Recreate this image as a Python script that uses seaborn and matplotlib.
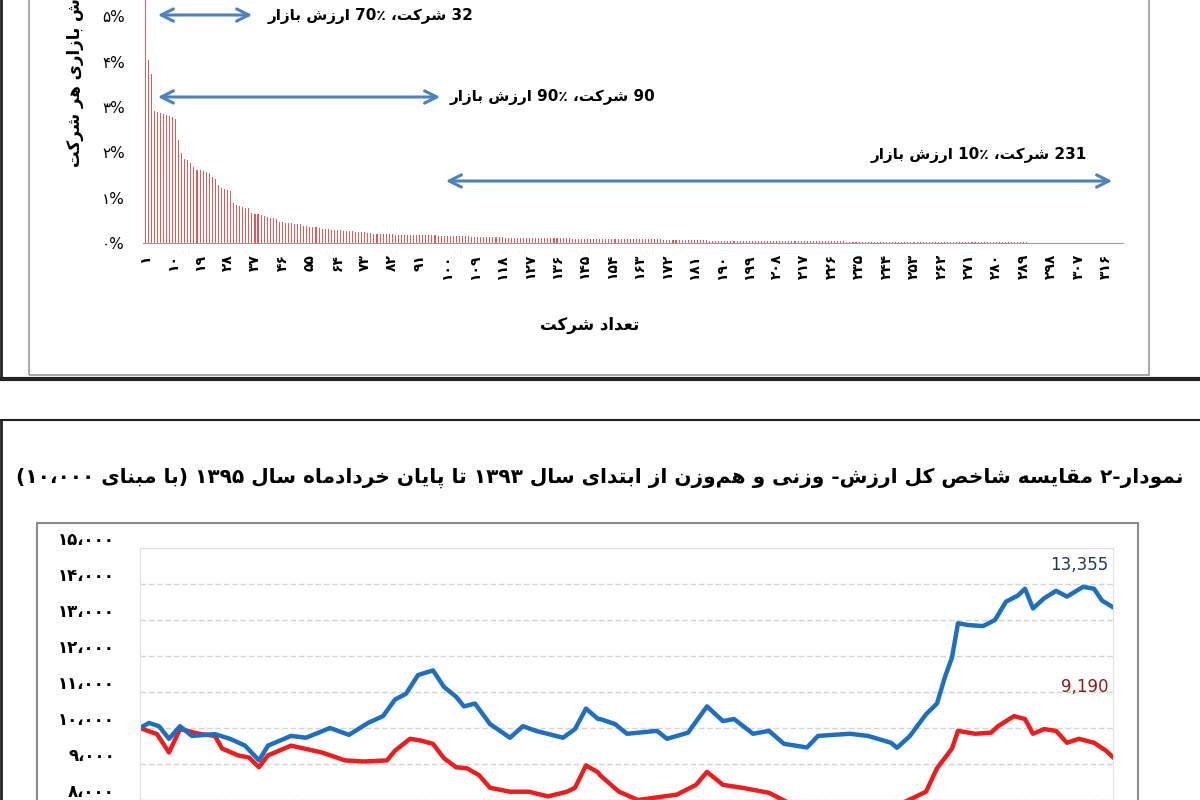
import re
import numpy as np
import pandas as pd
import matplotlib
matplotlib.use("Agg")
import matplotlib.pyplot as plt
import matplotlib.transforms as mtrans
from matplotlib.patches import Rectangle
from matplotlib.lines import Line2D
import seaborn as sns

# ---------------- data ----------------
share_pct = ([6.2, 4.03, 3.73, 2.91, 2.90, 2.87, 2.85, 2.83, 2.80, 2.78, 2.74, 2.28, 1.98,
              1.86, 1.83, 1.76, 1.68, 1.61, 1.60, 1.59, 1.57, 1.55,
              1.45, 1.42, 1.28, 1.22, 1.20, 1.17, 1.15,
              0.88, 0.84, 0.81, 0.79, 0.78, 0.77,
              0.66, 0.64, 0.63, 0.62, 0.60, 0.57, 0.56, 0.55, 0.54,
              0.47, 0.46, 0.45, 0.45, 0.44, 0.43, 0.42, 0.41,
              0.38, 0.37, 0.36, 0.36, 0.35, 0.34,
              0.31, 0.30, 0.30, 0.29, 0.29, 0.28, 0.28, 0.27, 0.27, 0.26, 0.26, 0.25, 0.25, 0.24, 0.24, 0.23, 0.22]
             + [0.19] * 7 + [0.18] * 7 + [0.17] * 7
             + [0.15] * 11 + [0.13] * 11 + [0.12] * 11 + [0.10] * 11
             + [0.09] * 15 + [0.08] * 15 + [0.06] * 15 + [0.05] * 15
             + [0.04] * 30 + [0.03] * 30 + [0.02] * 30 + [0.01] * 31)
company_no = list(range(1, len(share_pct) + 1))
company_ticks = list(range(1, 321, 9))

blue_day = [0, 9, 19, 29, 40, 52, 75, 90, 105, 119, 128, 151, 166, 190, 209, 228, 243, 255, 266, 278,
            293, 304, 316, 324, 335, 350, 370, 383, 396, 423, 435, 446, 458,
            460, 475, 487, 517, 527, 548, 567, 583, 594, 613, 629, 644, 667, 678, 710, 728, 751, 757,
            770, 786, 797, 805, 812, 818, 828, 843, 855, 866, 878, 885, 893, 904, 916, 927, 943, 954, 962, 973]
blue_val = [10000, 10140, 10050, 9700, 10050, 9780, 9830, 9700, 9510, 9100, 9510, 9780, 9730, 10000, 9810,
            10140, 10330, 10790, 10950, 11470, 11600, 11140, 10870, 10600, 10680, 10110, 9730, 10050, 9920,
            9730, 9970, 10540, 10250,
            10250, 10110, 9840, 9920, 9700, 9870, 10600, 10190, 10250, 9840, 9920, 9560, 9460, 9780, 9840,
            9780, 9590, 9450, 9780, 10380, 10680, 11420, 11960, 12910, 12860, 12830, 13000, 13510, 13680,
            13870, 13320, 13600, 13810, 13650, 13920, 13870, 13540, 13355]

red_day = [0, 17, 29, 40, 59, 75, 82, 98, 109, 119, 128, 151, 182, 205, 224, 247, 255, 270, 281, 293,
           304, 316, 327, 339, 350, 370, 389, 408, 427, 435, 446, 458,
           460, 479, 498, 537, 556, 567, 583, 602, 629, 650, 690, 730, 765,
           786, 797, 812, 818, 835, 851, 858, 874, 885, 893, 904, 916, 927, 939, 954, 966, 973]
red_val = [10000, 9830, 9320, 9970, 9840, 9780, 9430, 9240, 9180, 8910, 9240, 9510, 9320, 9100, 9070,
           9100, 9370, 9700, 9650, 9560, 9160, 8910, 8880, 8690, 8340, 8230, 8230, 8100, 8230, 8340,
           8960, 8770,
           8690, 8230, 8000, 8150, 8420, 8780, 8420, 8340, 8200, 7900, 7800, 7800, 7950,
           8230, 8880, 9430, 9920, 9840, 9870, 10050, 10330, 10250, 9840, 9970, 9920, 9590, 9700,
           9590, 9370, 9190]

y_ticks_idx = [8000, 9000, 10000, 11000, 12000, 13000, 14000, 15000]
pct_ticks = [0, 1, 2, 3, 4, 5]

title_text = "نمودار-۲ مقایسه شاخص کل ارزش- وزنی و هم\u200cوزن از ابتدای سال ۱۳۹۳ تا پایان خردادماه سال ۱۳۹۵ (با مبنای ۱۰،۰۰۰)"
ylabel_text = "ارزش بازاری هر شرکت"
xlabel_text = "تعداد شرکت"
note1 = "32 شرکت، ٪70 ارزش بازار"
note2 = "90 شرکت، ٪90 ارزش بازار"
note3 = "231 شرکت، ٪10 ارزش بازار"

# ---------------- Arabic/Persian shaping ----------------
DUAL = {'ب': 0xFE8F, 'ت': 0xFE95, 'ث': 0xFE99, 'ج': 0xFE9D, 'ح': 0xFEA1, 'خ': 0xFEA5, 'س': 0xFEB1,
        'ش': 0xFEB5, 'ص': 0xFEB9, 'ض': 0xFEBD, 'ط': 0xFEC1, 'ظ': 0xFEC5, 'ع': 0xFEC9, 'غ': 0xFECD,
        'ف': 0xFED1, 'ق': 0xFED5, 'ك': 0xFED9, 'ل': 0xFEDD, 'م': 0xFEE1, 'ن': 0xFEE5, 'ه': 0xFEE9,
        'ي': 0xFEF1, 'ی': 0xFBFC, 'ک': 0xFB8E, 'پ': 0xFB56, 'گ': 0xFB92, 'چ': 0xFB7A}
RIGHT = {'ا': 0xFE8D, 'آ': 0xFE81, 'د': 0xFEA9, 'ذ': 0xFEAB, 'ر': 0xFEAD, 'ز': 0xFEAF, 'و': 0xFEED,
         'ژ': 0xFB8A}


def shape(s):
    out = []
    n = len(s)
    for i, c in enumerate(s):
        p = s[i - 1] if i > 0 else ''
        q = s[i + 1] if i + 1 < n else ''
        pj = p in DUAL
        nj = q in DUAL or q in RIGHT
        if c in DUAL:
            b = DUAL[c]
            if pj and nj:
                out.append(chr(b + 3))
            elif nj:
                out.append(chr(b + 2))
            elif pj:
                out.append(chr(b + 1))
            else:
                out.append(chr(b))
        elif c in RIGHT:
            out.append(chr(RIGHT[c] + 1) if pj else chr(RIGHT[c]))
        elif c == '\u200c':
            continue
        else:
            out.append(c)
    return ''.join(out)


MIRROR = {'(': ')', ')': '('}


def rtl(s):
    s = shape(s)
    parts = re.split(r'([0-9۰-۹]+(?:[,،٬.][0-9۰-۹]+)*)', s)
    vis = []
    for k, part in enumerate(parts):
        if k % 2 == 1:
            vis.append(part)
        else:
            vis.append(''.join(MIRROR.get(ch, ch) for ch in reversed(part)))
    return ''.join(reversed(vis))


FA = str.maketrans('0123456789', '۰۱۲۳۴۵۶۷۸۹')


def fa(n):
    return str(n).translate(FA)


# ---------------- figure ----------------
plt.rcParams['font.family'] = 'DejaVu Sans'
W, H = 1200, 800
fig = plt.figure(figsize=(12, 8), dpi=100)
fig.patch.set_facecolor('white')


def fx(px):
    return px / W


def fy(py):
    return 1 - py / H


def rect(x0, y0, x1, y1):
    return [fx(x0), fy(y1), fx(x1) - fx(x0), fy(y0) - fy(y1)]


# frames
fig.patches.append(Rectangle((fx(29), fy(375)), fx(1149) - fx(29), fy(-5) - fy(375),
                             transform=fig.transFigure, fill=False, ec='#9a9a9a', lw=1.2))
fig.lines.append(Line2D([0, 1], [fy(379), fy(379)], transform=fig.transFigure, color='#222', lw=3))
fig.lines.append(Line2D([0.001, 0.001], [fy(379), 1], transform=fig.transFigure, color='#222', lw=2))
fig.lines.append(Line2D([0, 1], [fy(420), fy(420)], transform=fig.transFigure, color='#222', lw=1.5))
fig.lines.append(Line2D([0.001, 0.001], [0, fy(420)], transform=fig.transFigure, color='#222', lw=2))
fig.patches.append(Rectangle((fx(37), fy(810)), fx(1138) - fx(37), fy(523) - fy(810),
                             transform=fig.transFigure, fill=False, ec='#8a8a8a', lw=1.5))

# ---- top chart ----
ax1 = fig.add_axes(rect(143, 0, 1123, 243))
df1 = pd.DataFrame({'company': company_no, 'share': share_pct})
sns.barplot(data=df1, x='company', y='share', native_scale=True, width=0.35,
            color='#e05a5a', saturation=1, ax=ax1)
ax1.set_xlim(0.3, 321.5)
ax1.set_ylim(0, 5.36)
for sp in ['top', 'right', 'left']:
    ax1.spines[sp].set_visible(False)
ax1.spines['bottom'].set_color('#9a9a9a')
ax1.set_xticks(company_ticks)
ax1.set_xticklabels([fa(t) for t in company_ticks], rotation=90, fontsize=10, fontweight='bold')
ax1.set_yticks(pct_ticks)
ax1.set_yticklabels([fa(t) + '%' for t in pct_ticks], fontsize=11)
ax1.tick_params(axis='both', length=0)
ax1.tick_params(axis='y', pad=13)
ax1.tick_params(axis='x', pad=8)
ax1.set_xlabel('')
ax1.set_ylabel('')

fig.text(fx(590), fy(325), rtl(xlabel_text), ha='center', va='center', fontsize=12, fontweight='bold')
fig.text(fx(75), fy(70), rtl(ylabel_text), ha='center', va='center', rotation=90, fontsize=12,
         fontweight='bold')

arrow_kw = dict(arrowstyle='<->', color='#4f81bd', lw=2.2, mutation_scale=22)
ax1.annotate('', xy=(fx(155), fy(15)), xytext=(fx(255), fy(15)), xycoords='figure fraction',
             arrowprops=arrow_kw)
ax1.annotate('', xy=(fx(155), fy(97)), xytext=(fx(443), fy(97)), xycoords='figure fraction',
             arrowprops=arrow_kw)
ax1.annotate('', xy=(fx(443), fy(181)), xytext=(fx(1115), fy(181)), xycoords='figure fraction',
             arrowprops=arrow_kw)
fig.text(fx(268), fy(16), rtl(note1), ha='left', va='center', fontsize=11, fontweight='bold')
fig.text(fx(450), fy(97), rtl(note2), ha='left', va='center', fontsize=11, fontweight='bold')
fig.text(fx(1087), fy(155), rtl(note3), ha='right', va='center', fontsize=11, fontweight='bold')

# ---- bottom chart ----
fig.text(fx(600), fy(478), rtl(title_text), ha='center', va='center', fontsize=14.5, fontweight='bold')

ax2 = fig.add_axes(rect(140, 548, 1113, 800))
sns.lineplot(x=red_day, y=red_val, color='#ee1d1d', lw=3.2, ax=ax2)
sns.lineplot(x=blue_day, y=blue_val, color='#1f6fc0', lw=3.2, ax=ax2)
ax2.set_xlim(0, 973)
ax2.set_ylim(8147, 15000)
ax2.set_xticks([])
ax2.set_yticks(y_ticks_idx)
ax2.set_yticklabels([fa(v // 1000) + '،' + '۰۰۰' for v in y_ticks_idx], fontsize=12, fontweight='bold')
ax2.tick_params(axis='y', length=0, pad=18)
ax2.grid(axis='y', color='#d4d4d4', ls=(0, (4, 2)), lw=1)
for sp in ax2.spines.values():
    sp.set_color('#e0e0e0')
off = mtrans.ScaledTranslation(0, 10 / 100, fig.dpi_scale_trans)
for lab in ax2.get_yticklabels():
    lab.set_transform(lab.get_transform() + off)
ax2.text(0.995, 14520, '13,355', ha='right', va='center', fontsize=12, color='#1f3864',
         transform=ax2.get_yaxis_transform())
ax2.text(0.995, 11130, '9,190', ha='right', va='center', fontsize=12, color='#8b1a1a',
         transform=ax2.get_yaxis_transform())

fig.savefig('out.png', dpi=100, facecolor='white')
